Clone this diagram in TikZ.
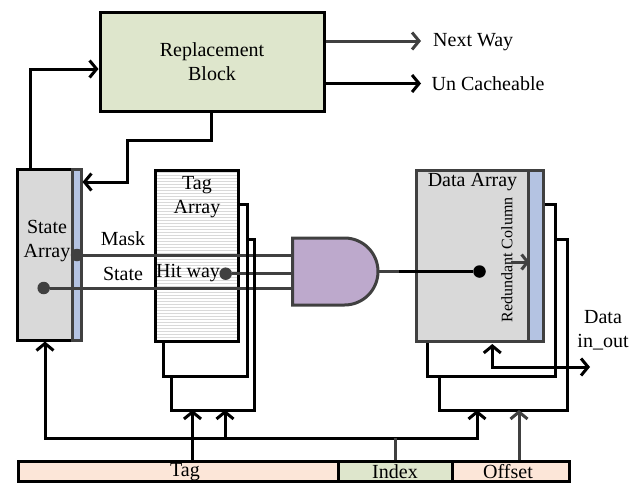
\documentclass[tikz,border=0pt]{standalone}
\usepackage{fontspec}
\setmainfont{Liberation Serif}
\usetikzlibrary{arrows.meta,patterns,calc}
\definecolor{CacheGray}{HTML}{D9D9D9}
\definecolor{CacheBlue}{HTML}{B4C3E2}
\definecolor{CacheGreen}{HTML}{DEE6CC}
\definecolor{CachePeach}{HTML}{FCE6D8}
\definecolor{CachePurple}{HTML}{BDA9CC}
\definecolor{CacheLine}{HTML}{404040}
\tikzset{
    % Base node style
    basenode/.style={
        draw=black,
        line width=3pt,
        inner sep=0pt,
        align=center,
        font=\fontsize{20}{24}\selectfont
    },
    % Memory array style
    arraynode/.style={
        basenode,
        fill=CacheGray,
        minimum height=171pt
    },
    % Redundant column style
    columnnode/.style={
        basenode,
        draw=CacheLine,
        fill=CacheBlue,
        minimum height=171pt
    },
    % Address field style
    fieldnode/.style={
        basenode,
        fill=CachePeach,
        minimum height=20pt
    },
    % Plain label
    labelnode/.style={
        inner sep=0pt,
        align=center,
        font=\fontsize{20}{24}\selectfont
    },
    % Arrow styles
    myarrow/.style={
        -{Straight Barb[length=7pt,width=17pt,line width=3pt]},
        line width=3pt,
        draw=black
    },
    biarrow/.style={
        {Straight Barb[length=7pt,width=17pt,line width=3pt]}-{Straight Barb[length=7pt,width=17pt,line width=3pt]},
        line width=3pt,
        draw=black
    },
    % Connector without tip
    myline/.style={
        line width=3pt,
        draw=black
    },
    % Signal line into the gate
    sigline/.style={
        line width=3pt,
        draw=CacheLine
    },
    % Signal dot
    sigdot/.style={
        circle,
        fill=CacheLine,
        inner sep=0pt,
        minimum size=12.5pt
    }
}
\begin{document}
\begin{tikzpicture}[x=1pt,y=-1pt]
    \useasboundingbox (0,0) rectangle (629,482);

    % Blocks
    \node[basenode, fill=CacheGreen, minimum width=224pt, minimum height=99pt] (replace) at (212,62) {};
    \node[labelnode] (replacelabel) at (212,62) {Replacement\\Block};
    \node[arraynode, minimum width=55pt] (state) at (45,254.5) {};
    \node[columnnode, minimum width=9pt] (statecol) at (76.5,254.5) {};
    \node[labelnode] (statelabel) at (47,241) {State\\Array};
    \node[basenode, pattern=horizontal lines, pattern color=black!15, minimum width=83pt, minimum height=171pt] (tag) at (197,256) {};
    \node[labelnode] (taglabel) at (197,197) {Tag\\Array};
    \node[arraynode, draw=CacheLine, minimum width=112pt] (data) at (472,255.5) {};
    \node[columnnode, minimum width=15pt] (datacol) at (535.5,255.5) {};
    \node[labelnode] (datalabel) at (472.5,182) {Data Array};
    \node[labelnode, font=\fontsize{16}{20}\selectfont, rotate=90] (redundant) at (507,260) {Redundant Column};

    % Address fields
    \node[fieldnode, minimum width=320pt] (tagfield) at (178,471) {};
    \node[fieldnode, fill=CacheGreen, minimum width=115pt] (indexfield) at (395.5,471) {};
    \node[fieldnode, minimum width=117pt] (offsetfield) at (511,471) {};
    \node[labelnode] (taglabelb) at (185,472.5) {Tag};
    \node[labelnode] (indexlabel) at (395,471.5) {Index};
    \node[labelnode] (offsetlabel) at (508,471.5) {Offset};

    % Outputs
    \node[labelnode, anchor=west] (nextway) at (433,42) {Next Way};
    \node[labelnode, anchor=west] (uncache) at (431.5,84) {Un Cacheable};
    \node[labelnode] (inout) at (603,330) {Data\\in\_out};

    % Signal labels
    \node[labelnode] (masklabel) at (123,238.5) {Mask};
    \node[labelnode] (sigstate) at (123,273.5) {State};
    \node[labelnode] (hitway) at (188,273) {Hit way};

    % Gate
    \coordinate (gatenw) at (292.5,238);
    \coordinate (gatesw) at (292.5,305);
    \coordinate (gateout) at (378,271.5);
    \draw[line width=3pt, draw=CacheLine, fill=CachePurple] (gatenw) -- (344.5,238) arc[start angle=90, end angle=-90, radius=33.5pt] -- (gatesw) -- cycle;

    % Dots
    \node[sigdot] (maskdot) at (77,255) {};
    \node[sigdot] (hitdot) at (225.7,273.7) {};
    \node[sigdot] (statedot) at (43.7,288) {};
    \node[sigdot, fill=black] (datadot) at (479.5,271.5) {};

    % Gate inputs and output
    \draw[sigline] (maskdot) -- (maskdot -| gatenw);
    \draw[sigline] (hitdot) -- (hitdot -| gatenw);
    \draw[sigline] (statedot) -- (statedot -| gatenw);
    \coordinate (outbend) at (399,271.5);
    \draw[sigline] (gateout) -- (outbend);
    \draw[myline] (outbend) -- (datadot);
    \coordinate (redtail) at (511,262);
    \draw[-{Straight Barb[length=6pt,width=15pt,line width=3pt]}, line width=3pt, draw=CacheLine] (redtail) -- (redtail -| data.east);

    % Replacement block connectors
    \coordinate (upbend) at (30,69);
    \draw[myarrow] (state.north -| upbend) -- (upbend) -- (upbend -| replace.west);
    \coordinate (backa) at (211,140);
    \coordinate (backb) at (127.5,182);
    \draw[myarrow] (replace.south -| backa) -- (backa) -| (backb) -- (backb -| statecol.east);
    \coordinate (nextend) at (421,41);
    \coordinate (uncend) at (421,83.5);
    \draw[myarrow, draw=CacheLine] (nextend -| replace.east) -- (nextend);
    \draw[myarrow] (uncend -| replace.east) -- (uncend);

    % Tag array stack
    \coordinate (taga) at (247,204);
    \coordinate (tagb) at (254,239);
    \coordinate (tagc) at (163,376);
    \coordinate (tagd) at (171,410);
    \draw[myline] (tag.east |- taga) -- (taga) |- (tagc) -- (tagc |- tag.south);
    \draw[myline] (taga |- tagb) -- (tagb) |- (tagd) -- (tagd |- tagc);

    % Data array stack
    \coordinate (dataa) at (555,204);
    \coordinate (datab) at (567,239);
    \coordinate (datac) at (427,376);
    \coordinate (datad) at (439,410);
    \draw[myline] (datacol.east |- dataa) -- (dataa) |- (datac) -- (datac |- data.south);
    \draw[myline] (dataa |- datab) -- (datab) |- (datad) -- (datad |- datac);

    % Data in and out
    \coordinate (iotop) at (492.3,344);
    \coordinate (ioend) at (590,367);
    \draw[biarrow] (iotop) |- (ioend);

    % Address bus
    \coordinate (bus) at (395.5,438);
    \coordinate (busend) at (477,410);
    \coordinate (tagup) at (192.5,410);
    \coordinate (maskup) at (225,410);
    \coordinate (offup) at (519,410);
    \draw[biarrow] (state.south) |- (bus) -| (busend);
    \draw[myarrow] (tagup |- tagfield.north) -- (tagup);
    \draw[myarrow] (maskup |- bus) -- (maskup);
    \draw[myarrow, draw=CacheLine] (offup |- offsetfield.north) -- (offup);
    \draw[sigline] (indexfield.north) -- (bus);
\end{tikzpicture}
\end{document}
